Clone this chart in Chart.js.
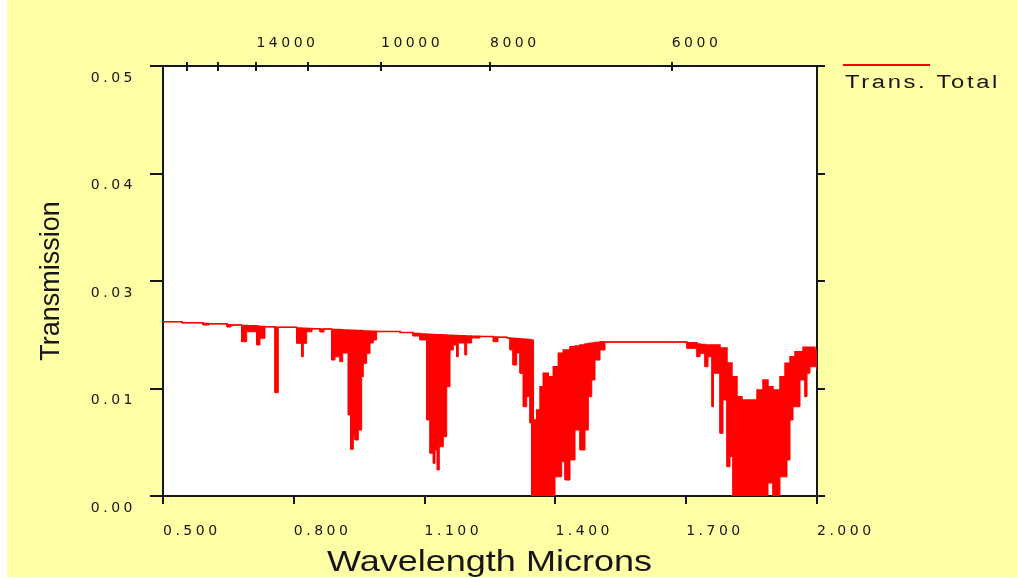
<!DOCTYPE html>
<html><head><meta charset="utf-8">
<script src="https://cdn.jsdelivr.net/npm/chart.js@4"></script>
<style>html,body{margin:0;padding:0;background:#fff;}canvas{display:block;}</style>
</head><body>
<canvas id="c" width="1017" height="578"></canvas>
<script>
// ---- data (wavelength in microns, transmission) ----
const wavelength = [0.5000,0.5436,0.5917,0.6055,0.6468,0.6560,0.6805,0.6920,0.7149,0.7225,0.7339,0.7569,0.7644,0.8067,0.8181,0.8218,0.8296,0.8417,0.8601,0.8693,0.8869,0.8945,0.9060,0.9122,0.9250,0.9305,0.9365,0.9404,0.9479,0.9557,0.9594,0.9672,0.9748,0.9823,0.9901,1.0436,1.0734,1.0894,1.1048,1.1124,1.1200,1.1239,1.1291,1.1337,1.1429,1.1507,1.1583,1.1658,1.1736,1.1773,1.1927,1.1966,1.2080,1.2271,1.2576,1.2683,1.2890,1.2959,1.3028,1.3112,1.3188,1.3264,1.3342,1.3417,1.3456,1.3493,1.3571,1.3647,1.3722,1.3837,1.3952,1.3991,1.4067,1.4144,1.4181,1.4220,1.4335,1.4450,1.4564,1.4679,1.4755,1.4833,1.4908,1.5023,1.5138,1.7018,1.7248,1.7317,1.7431,1.7500,1.7592,1.7626,1.7775,1.7844,1.7936,1.8005,1.8050,1.8073,1.8165,1.8280,1.8624,1.8761,1.8876,1.8991,1.9151,1.9266,1.9312,1.9381,1.9450,1.9495,1.9610,1.9679,1.9725,1.9771,1.9839,1.9954,2.0000];
const transUpper = [0.02027,0.02015,0.02006,0.02002,0.01991,0.01988,0.01983,0.01979,0.01973,0.01971,0.01967,0.01963,0.01962,0.01953,0.01951,0.01950,0.01948,0.01945,0.01942,0.01942,0.01936,0.01935,0.01933,0.01930,0.01928,0.01927,0.01926,0.01924,0.01923,0.01921,0.01920,0.01919,0.01916,0.01915,0.01913,0.01901,0.01890,0.01884,0.01880,0.01878,0.01877,0.01876,0.01875,0.01874,0.01872,0.01870,0.01869,0.01866,0.01865,0.01864,0.01860,0.01860,0.01858,0.01855,0.01849,0.01847,0.01837,0.01834,0.01831,0.01829,0.01826,0.01822,0.01819,0.01814,0.01810,0.00884,0.01000,0.01271,0.01427,0.01387,0.01503,0.01503,0.01659,0.01659,0.01698,0.01698,0.01736,0.01744,0.01756,0.01767,0.01773,0.01779,0.01785,0.01794,0.01791,0.01783,0.01767,0.01762,0.01756,0.01756,0.01756,0.01756,0.01721,0.01721,0.01547,0.01547,0.01387,0.01387,0.01155,0.01116,0.01233,0.01349,0.01271,0.01233,0.01387,0.01543,0.01543,0.01620,0.01620,0.01678,0.01678,0.01729,0.01729,0.01729,0.01729,0.01698,0.01674];
const transLower = [0.02027,0.02015,0.01988,0.02002,0.01965,0.01988,0.01794,0.01910,0.01756,0.01834,0.01967,0.01201,0.01962,0.01776,0.01620,0.01776,0.01910,0.01945,0.01907,0.01942,0.01581,0.01620,0.01562,0.01663,0.00942,0.00543,0.00709,0.00651,0.00767,0.01387,0.01543,0.01659,0.01779,0.01814,0.01913,0.01901,0.01860,0.01814,0.00884,0.00497,0.00380,0.00535,0.00302,0.00573,0.00690,0.01271,0.01698,0.01756,0.01620,0.01779,0.01640,0.01779,0.01837,0.01855,0.01794,0.01847,0.01837,0.01698,0.01523,0.01663,0.01427,0.01038,0.01155,0.00849,0,0,0,0,0,0,0,0.00224,0.00224,0.00399,0.00399,0.00186,0.00419,0.00767,0.00535,0.00767,0.01155,0.01349,0.01581,0.01698,0.01791,0.01717,0.01620,0.01659,0.01503,0.01620,0.01038,0.01427,0.00729,0.01116,0.00341,0.00457,0.00457,0,0,0,0,0,0.00151,0,0.00224,0.00224,0.00419,0.00884,0.01038,0.01038,0.01349,0.01349,0.01155,0.01427,0.01503,0.01503,0.01465];

const xTickValues = [0.5, 0.8, 1.1, 1.4, 1.7, 2.0];
const xTickLabels = ['0.500','0.800','1.100','1.400','1.700','2.000'];
const yTickValues = [0, 0.0125, 0.025, 0.0375, 0.05];
const yTickLabels = ['0.00','0.01','0.03','0.04','0.05'];
const topWavenumbers = [18000, 16000, 14000, 12000, 10000, 8000, 6000];
const topLabeled = [14000, 10000, 8000, 6000];
const seriesName = 'Trans. Total';
const xTitle = 'Wavelength Microns';
const yTitle = 'Transmission';

const RED = '#ff0000';
const INK = '#161616';
const tickFont = {family: 'DejaVu Sans', size: 14};

// each value holds from its wavelength to the next one (step table)
function stepTable(xs, ys) {
  const out = [];
  for (let i = 0; i < xs.length; i++) {
    out.push({x: xs[i], y: ys[i]});
    if (i < xs.length - 1) out.push({x: xs[i + 1], y: ys[i]});
  }
  return out;
}

const bgPlugin = {
  id: 'bg',
  beforeDraw(chart) {
    const ctx = chart.ctx, a = chart.chartArea;
    ctx.save();
    ctx.fillStyle = '#ffffff';
    ctx.fillRect(0, 0, chart.width, chart.height);
    ctx.fillStyle = '#ffffa6';
    ctx.fillRect(7, 0, chart.width - 7, 577);
    ctx.fillStyle = '#ffffff';
    ctx.fillRect(a.left, a.top, a.right - a.left, a.bottom - a.top);
    ctx.restore();
    ctx.letterSpacing = '3.5px';
  },
  afterDatasetsDraw(chart) {
    const ctx = chart.ctx, a = chart.chartArea, s = chart.scales.x2;
    ctx.save();
    ctx.strokeStyle = INK; ctx.lineWidth = 2;
    s.ticks.forEach(t => {
      const px = Math.round(s.getPixelForValue(t.value));
      ctx.beginPath(); ctx.moveTo(px, a.top); ctx.lineTo(px, a.top + 5); ctx.stroke();
    });
    ctx.restore();
  },
  afterDraw(chart) {
    const ctx = chart.ctx, a = chart.chartArea;
    ctx.save();
    ctx.letterSpacing = '0px';
    ctx.fillStyle = INK;
    ctx.font = '29px "Liberation Sans"';
    let w = ctx.measureText(xTitle).width;
    ctx.translate((a.left + a.right) / 2 - 0.5, 571);
    ctx.scale(325 / w, 1);
    ctx.textAlign = 'center'; ctx.textBaseline = 'alphabetic';
    ctx.fillText(xTitle, 0, 0);
    ctx.restore();

    ctx.save();
    ctx.letterSpacing = '0px';
    ctx.fillStyle = INK;
    ctx.font = '27px "Liberation Sans"';
    ctx.translate(59, (a.top + a.bottom) / 2);
    ctx.rotate(-Math.PI / 2);
    ctx.textAlign = 'center'; ctx.textBaseline = 'alphabetic';
    ctx.fillText(yTitle, 0, 0);
    ctx.restore();

    ctx.save();
    ctx.strokeStyle = RED; ctx.lineWidth = 2;
    ctx.beginPath(); ctx.moveTo(843, 65); ctx.lineTo(930, 65); ctx.stroke();
    ctx.letterSpacing = '2px';
    ctx.fillStyle = INK;
    ctx.font = '18px "Liberation Sans"';
    w = ctx.measureText(seriesName).width;
    ctx.translate(845, 88);
    ctx.scale(155 / w, 1);
    ctx.textAlign = 'left'; ctx.textBaseline = 'alphabetic';
    ctx.fillText(seriesName, 0, 0);
    ctx.restore();
  }
};

const gridCommon = {drawOnChartArea: false, drawTicks: true, color: INK, lineWidth: 2};
const borderCommon = {display: true, color: INK, width: 2};

new Chart(document.getElementById('c'), {
  type: 'line',
  data: {
    datasets: [
      {
        label: seriesName,
        data: stepTable(wavelength, transUpper),
        borderColor: RED, borderWidth: 1.5, pointRadius: 0, fill: false
      },
      {
        label: 'lower',
        data: stepTable(wavelength, transLower),
        borderColor: RED, backgroundColor: RED, borderWidth: 1, pointRadius: 0, fill: '-1'
      }
    ]
  },
  options: {
    responsive: false,
    animation: false,
    devicePixelRatio: 1,
    layout: {padding: 0},
    plugins: {legend: {display: false}, tooltip: {enabled: false}},
    scales: {
      x: {
        type: 'linear', position: 'bottom', min: 0.5, max: 2.0,
        afterBuildTicks: s => { s.ticks = xTickValues.map(v => ({value: v})); },
        afterFit: s => { s.height = 82; },
        ticks: {align: 'start', maxRotation: 0, autoSkip: false, padding: 19, font: tickFont, color: INK,
          callback: (v, i) => xTickLabels[i]},
        grid: Object.assign({}, gridCommon, {tickLength: 8}),
        border: borderCommon
      },
      x2: {
        type: 'linear', position: 'top', min: 0.5, max: 2.0,
        afterBuildTicks: s => { s.ticks = topWavenumbers.map(wn => ({value: 1e4 / wn})); },
        afterFit: s => { s.height = 66; },
        ticks: {align: 'start', maxRotation: 0, autoSkip: false, padding: 10, font: tickFont, color: INK,
          callback: (v, i) => topLabeled.includes(topWavenumbers[i]) ? String(topWavenumbers[i]) : ''},
        grid: Object.assign({}, gridCommon, {tickLength: 4}),
        border: borderCommon
      },
      y: {
        type: 'linear', position: 'left', min: 0, max: 0.05,
        afterBuildTicks: s => { s.ticks = yTickValues.map(v => ({value: v})); },
        afterFit: s => { s.width = 163; },
        ticks: {padding: 14, labelOffset: 12, font: tickFont, color: INK,
          callback: (v, i) => yTickLabels[i]},
        grid: Object.assign({}, gridCommon, {tickLength: 13}),
        border: borderCommon
      },
      y2: {
        type: 'linear', position: 'right', min: 0, max: 0.05,
        afterBuildTicks: s => { s.ticks = yTickValues.map(v => ({value: v})); },
        afterFit: s => { s.width = 200; },
        ticks: {display: false},
        grid: Object.assign({}, gridCommon, {tickLength: 8}),
        border: borderCommon
      }
    }
  },
  plugins: [bgPlugin]
});
</script>
</body></html>
